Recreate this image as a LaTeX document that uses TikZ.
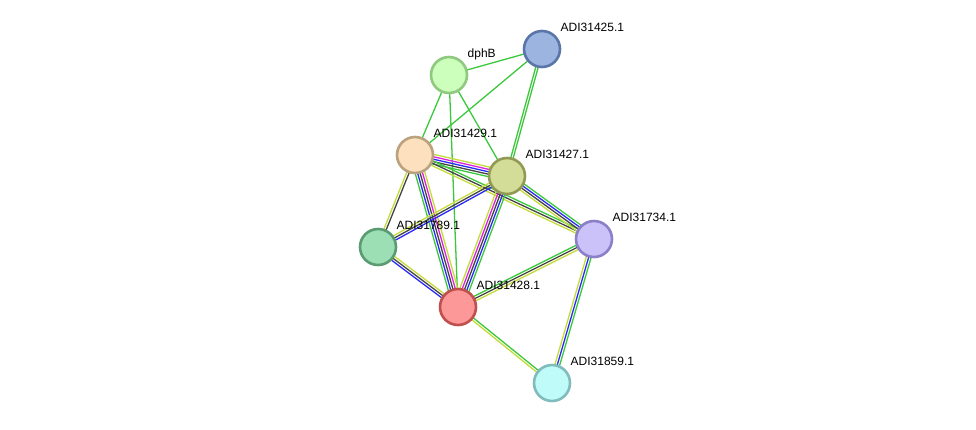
\documentclass[tikz,border=0pt]{standalone}
\usepackage{fontspec}
\setmainfont{Liberation Sans}
\usetikzlibrary{calc}
\pgfdeclarelayer{bg}
\pgfsetlayers{bg,main}
\definecolor{cgreen}{HTML}{3CC83C}
\definecolor{cyellow}{HTML}{C4DC3A}
\definecolor{cblue}{HTML}{2A2AF5}
\definecolor{cmag}{HTML}{DD22DD}
\definecolor{cblack}{HTML}{444444}
\definecolor{f1}{HTML}{CCFFBB}\definecolor{b1}{HTML}{8FC87F}
\definecolor{f2}{HTML}{9BB5E0}\definecolor{b2}{HTML}{5A76A8}
\definecolor{f3}{HTML}{FDE0BD}\definecolor{b3}{HTML}{BAA27F}
\definecolor{f4}{HTML}{D4DD98}\definecolor{b4}{HTML}{919A55}
\definecolor{f5}{HTML}{CBC2FA}\definecolor{b5}{HTML}{8A7FC8}
\definecolor{f6}{HTML}{9DDFB5}\definecolor{b6}{HTML}{5A9B72}
\definecolor{f7}{HTML}{FD9898}\definecolor{b7}{HTML}{C0504D}
\definecolor{f8}{HTML}{BFFBF8}\definecolor{b8}{HTML}{7FBCBB}
\tikzset{
  prot/.style={circle, minimum size=36pt, inner sep=0pt, line width=2.6pt},
  lab/.style={anchor=base west, inner sep=0pt, font=\fontsize{12}{14}\selectfont, text=black},
  eline/.style={line width=1.3pt},
}
\newcommand\medge[4]{%
  \foreach \c [count=\i] in {#4} {%
    \pgfmathsetmacro\off{((#3+1)/2-\i)*2.4}%
    \draw[eline, color=\c] ($(#1)!\off pt!90:(#2)$) -- ($(#2)!\off pt!-90:(#1)$);
  }%
}
\begin{document}
\begin{tikzpicture}[x=1pt, y=-1pt]
\useasboundingbox (0,0) rectangle (976,429);
\node[prot, draw=b1, fill=f1] (dphB) at (449,75) {};
\node[prot, draw=b2, fill=f2] (n25) at (542,49) {};
\node[prot, draw=b3, fill=f3] (n29) at (415,155) {};
\node[prot, draw=b4, fill=f4] (n27) at (507,176) {};
\node[prot, draw=b5, fill=f5] (n34) at (594,239) {};
\node[prot, draw=b6, fill=f6] (n89) at (378,247) {};
\node[prot, draw=b7, fill=f7] (n28) at (458,307) {};
\node[prot, draw=b8, fill=f8] (n59) at (552,383) {};
\foreach \n/\t in {dphB/dphB, n25/ADI31425.1, n29/ADI31429.1, n27/ADI31427.1, n34/ADI31734.1, n89/ADI31789.1, n28/ADI31428.1, n59/ADI31859.1}
  \node[lab] (l\n) at ($(\n)+(18.5,-17.2)$) {\t};
\begin{pgfonlayer}{bg}
\medge{dphB}{n25}{1}{cgreen}
\medge{dphB}{n29}{1}{cgreen}
\medge{dphB}{n27}{1}{cgreen}
\medge{dphB}{n28}{1}{cgreen}
\medge{n25}{n29}{1}{cgreen}
\medge{n25}{n27}{2}{cgreen,cgreen}
\medge{n29}{n27}{5}{cyellow,cmag,cblue,cblack,cgreen}
\medge{n29}{n34}{3}{cgreen,cblack,cyellow}
\medge{n29}{n89}{2}{cblack,cyellow}
\medge{n29}{n28}{5}{cyellow,cmag,cblack,cblue,cgreen}
\medge{n27}{n89}{3}{cblue,cblack,cyellow}
\medge{n27}{n34}{4}{cgreen,cblue,cblack,cyellow}
\medge{n27}{n28}{5}{cgreen,cblue,cblack,cmag,cyellow}
\medge{n89}{n28}{3}{cyellow,cblack,cblue}
\medge{n34}{n28}{3}{cyellow,cblack,cgreen}
\medge{n34}{n59}{3}{cgreen,cblue,cyellow}
\medge{n28}{n59}{2}{cgreen,cyellow}
\end{pgfonlayer}
\end{tikzpicture}
\end{document}
